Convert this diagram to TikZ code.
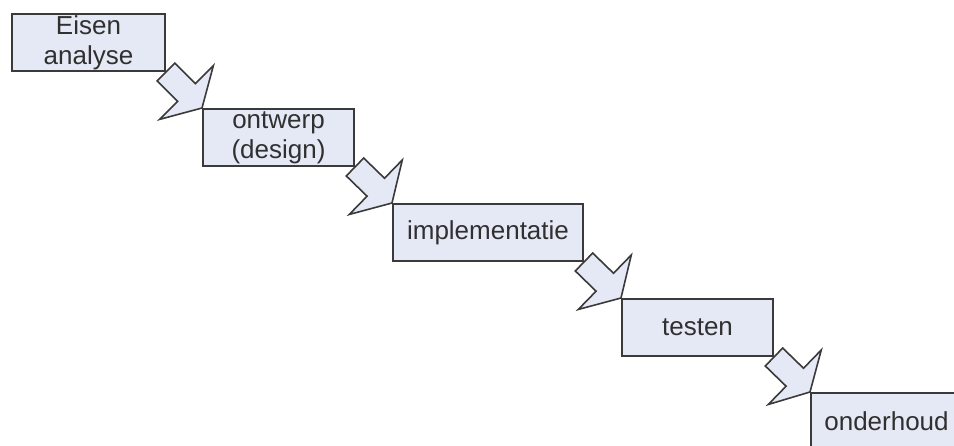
\documentclass[tikz,border=0pt]{standalone}
\usepackage{fontspec}
\setmainfont{Liberation Sans}
\usetikzlibrary{calc,backgrounds}
\definecolor{boxfill}{HTML}{E5E9F5}
\definecolor{boxline}{HTML}{3A3A3A}
\definecolor{txt}{HTML}{303030}
\tikzset{
  stepbox/.style={draw=boxline, fill=boxfill, line width=2pt, inner sep=0pt,
    minimum height=57pt, anchor=north west, align=center, text=txt,
    font=\fontsize{26}{30}\selectfont},
  bentarrow/.style={draw=boxline, fill=boxfill, line width=1.6pt, line join=miter}
}
\newcommand\steparrow[2]{%
  \coordinate (A) at (#1.south east);
  \coordinate (B) at (#2.north west);
  \coordinate (J) at ($(A)!29pt!(B)$);
  \draw[bentarrow] ($(A)!12.5pt!90:(B)$) -- ($(J)!12.5pt!90:(B)$) -- ($(J)!38pt!90:(B)$)
    -- (B) -- ($(J)!38pt!-90:(B)$) -- ($(J)!12.5pt!-90:(B)$) -- ($(A)!12.5pt!-90:(B)$) -- cycle;
}
\begin{document}
\begin{tikzpicture}[x=1pt,y=1pt]
\useasboundingbox (0,0) rectangle (954,-445);
\clip (0,0) rectangle (954,-445);
\node[stepbox, minimum width=153pt] (b1) at (11,-13) {Eisen\\analyse};
\node[stepbox, minimum width=151pt] (b2) at (202,-108) {ontwerp\\(design)};
\node[stepbox, minimum width=190pt] (b3) at (392,-203) {implementatie};
\node[stepbox, minimum width=151pt] (b4) at (621,-298) {testen};
\node[stepbox, minimum width=151pt] (b5) at (810,-392) {onderhoud};
\begin{pgfonlayer}{background}
\fill[white] (0,0) rectangle (954,-445);
\steparrow{b1}{b2}
\steparrow{b2}{b3}
\steparrow{b3}{b4}
\steparrow{b4}{b5}
\end{pgfonlayer}
\end{tikzpicture}
\end{document}
